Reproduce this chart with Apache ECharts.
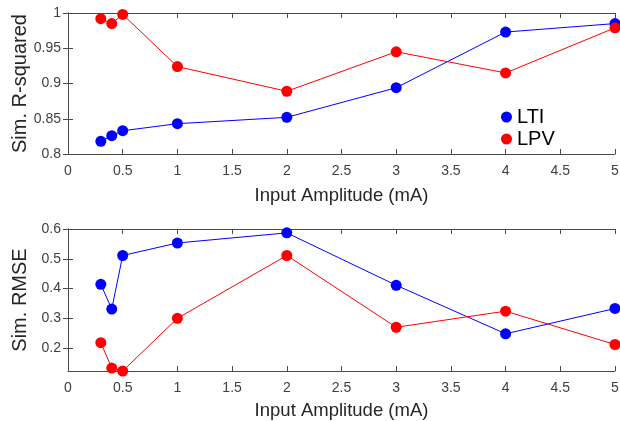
<!DOCTYPE html>
<html>
<head>
<meta charset="utf-8">
<script src="https://cdn.jsdelivr.net/npm/echarts@6/dist/echarts.min.js"></script>
<style>
  html, body { margin: 0; padding: 0; background: #fff; }
  #chart { width: 620px; height: 421px; }
</style>
</head>
<body>
<div id="chart"></div>
<script>
// data
var amps = [0.3, 0.4, 0.5, 1, 2, 3, 4, 5];
var r2_lti = [0.818, 0.826, 0.833, 0.843, 0.852, 0.894, 0.973, 0.985];
var r2_lpv = [0.992, 0.985, 0.998, 0.924, 0.889, 0.945, 0.915, 0.979];
var rmse_lti = [0.414, 0.331, 0.511, 0.553, 0.587, 0.411, 0.248, 0.333];
var rmse_lpv = [0.218, 0.133, 0.123, 0.300, 0.511, 0.270, 0.324, 0.212];
var rmse_ticks = [0.2, 0.3, 0.4, 0.5, 0.6];

var FONT = 'Liberation Sans, Arial, sans-serif';
var AXIS_COL = '#4a4a4a';
var TXT_COL = '#404040';

function pairs(xs, ys) {
    return xs.map(function (x, i) { return [x, ys[i]]; });
}

// main x axis (bottom), labels + name
function xMain(gi, gap) {
    return {
        type: 'value', gridIndex: gi, min: 0, max: 5, interval: 0.5,
        position: 'bottom',
        name: 'Input Amplitude (mA)', nameLocation: 'middle', nameGap: gap,
        nameMoveOverlap: false,
        nameTextStyle: { fontFamily: FONT, fontSize: 18.5, color: '#262626' },
        axisLine: { show: true, lineStyle: { color: AXIS_COL, width: 1 } },
        axisTick: { show: true, inside: true, length: 5, lineStyle: { color: AXIS_COL } },
        axisLabel: { fontFamily: FONT, fontSize: 14, color: TXT_COL, margin: 10 },
        splitLine: { show: false }
    };
}
// box top edge
function xTop(gi) {
    return {
        type: 'value', gridIndex: gi, min: 0, max: 5, interval: 0.5, position: 'top',
        axisLine: { show: true, onZero: false, lineStyle: { color: AXIS_COL, width: 1 } },
        axisTick: { show: true, inside: true, length: 5, lineStyle: { color: AXIS_COL } },
        axisLabel: { show: false }, splitLine: { show: false }
    };
}

var option = {
    animation: false,
    backgroundColor: '#fff',
    grid: [
        { left: 68, width: 547, top: 13, height: 141, outerBoundsMode: 'none', containLabel: false },
        { left: 68, width: 547, top: 229, height: 142, outerBoundsMode: 'none', containLabel: false }
    ],
    xAxis: [xMain(0, 32), xTop(0), xMain(1, 30), xTop(1)],
    yAxis: [
        {
            type: 'value', gridIndex: 0, min: 0.8, max: 1, interval: 0.05, position: 'left',
            name: 'Sim. R-squared', nameLocation: 'middle', nameGap: 38, nameMoveOverlap: false,
            nameTextStyle: { fontFamily: FONT, fontSize: 20, color: '#262626' },
            axisLine: { show: true, lineStyle: { color: AXIS_COL } },
            axisTick: { show: true, inside: true, length: 5, lineStyle: { color: AXIS_COL } },
            axisLabel: { fontFamily: FONT, fontSize: 14, color: TXT_COL, margin: 7 },
            splitLine: { show: false }
        },
        {
            type: 'value', gridIndex: 0, min: 0.8, max: 1, interval: 0.05, position: 'right',
            axisLine: { show: true, lineStyle: { color: AXIS_COL } },
            axisTick: { show: true, inside: true, length: 5, lineStyle: { color: AXIS_COL } },
            axisLabel: { show: false }, splitLine: { show: false }
        },
        {
            type: 'value', gridIndex: 1, min: 0.123, max: 0.6, position: 'left',
            name: 'Sim. RMSE', nameLocation: 'middle', nameGap: 38, nameMoveOverlap: false,
            nameTextStyle: { fontFamily: FONT, fontSize: 20, color: '#262626' },
            axisLine: { show: true, lineStyle: { color: AXIS_COL } },
            axisTick: { show: true, inside: true, length: 5, customValues: rmse_ticks, lineStyle: { color: AXIS_COL } },
            axisLabel: { fontFamily: FONT, fontSize: 14, color: TXT_COL, margin: 7, customValues: rmse_ticks },
            splitLine: { show: false }
        },
        {
            type: 'value', gridIndex: 1, min: 0.123, max: 0.6, position: 'right',
            axisLine: { show: true, lineStyle: { color: AXIS_COL } },
            axisTick: { show: true, inside: true, length: 5, customValues: rmse_ticks, lineStyle: { color: AXIS_COL } },
            axisLabel: { show: false, customValues: rmse_ticks }, splitLine: { show: false }
        }
    ],
    legend: {
        left: 496, top: 102, orient: 'vertical', itemGap: 2,
        icon: 'circle', itemWidth: 11, itemHeight: 11,
        textStyle: { fontFamily: FONT, fontSize: 20, color: '#000' },
        data: ['LTI', 'LPV']
    },
    series: [
        { name: 'LTI', type: 'line', xAxisIndex: 0, yAxisIndex: 0, data: pairs(amps, r2_lti) },
        { name: 'LPV', type: 'line', xAxisIndex: 0, yAxisIndex: 0, data: pairs(amps, r2_lpv) },
        { name: 'LTI', type: 'line', xAxisIndex: 2, yAxisIndex: 2, data: pairs(amps, rmse_lti) },
        { name: 'LPV', type: 'line', xAxisIndex: 2, yAxisIndex: 2, data: pairs(amps, rmse_lpv) }
    ].map(function (s) {
        var c = s.name == 'LTI' ? '#0000ff' : '#ff0000';
        s.symbol = 'circle';
        s.symbolSize = 11;
        s.clip = false;
        s.color = c;
        s.itemStyle = { color: c };
        s.lineStyle = { color: c, width: 1 };
        return s;
    })
};

var myChart = echarts.init(document.getElementById('chart'));
myChart.setOption(option);
</script>
</body>
</html>
